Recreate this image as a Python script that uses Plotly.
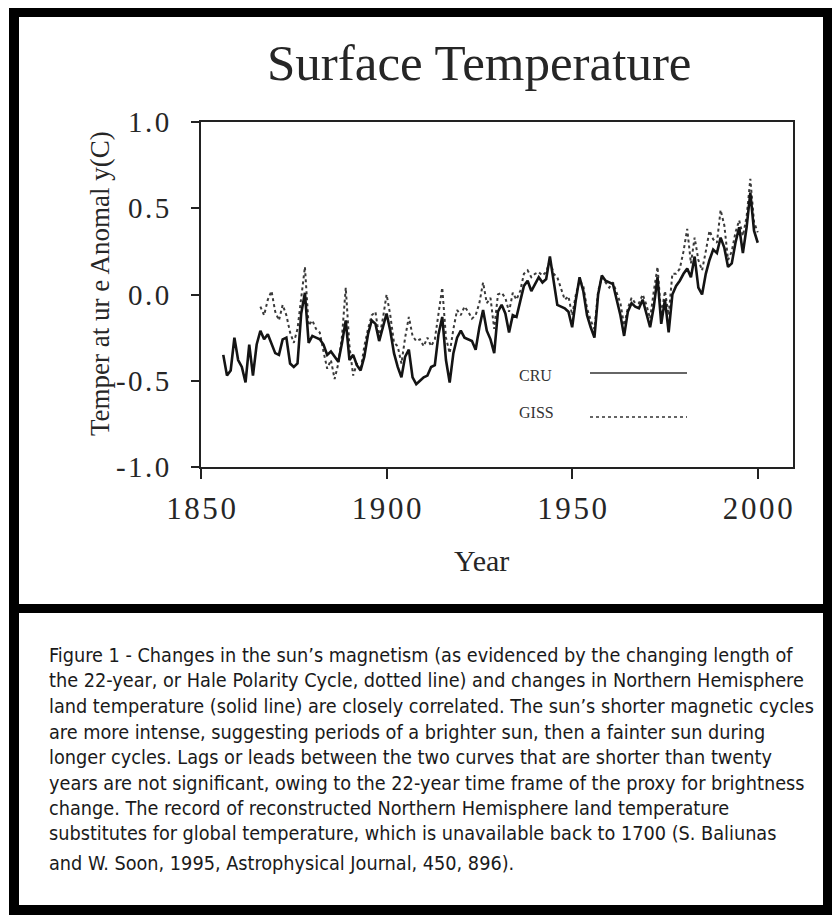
import plotly.graph_objects as go

# ---------------- data ----------------
cru_years = list(range(1856, 2001))
cru_values = [
    -0.35, -0.47, -0.44, -0.25,                                      # 1856-1859
    -0.38, -0.42, -0.51, -0.29, -0.47, -0.29, -0.21, -0.26, -0.23, -0.29,  # 1860s
    -0.34, -0.35, -0.26, -0.25, -0.40, -0.42, -0.40, -0.11, 0.01, -0.28,   # 1870s
    -0.24, -0.25, -0.26, -0.29, -0.35, -0.33, -0.36, -0.39, -0.28, -0.15,  # 1880s
    -0.38, -0.35, -0.41, -0.44, -0.36, -0.23, -0.15, -0.17, -0.27, -0.19,  # 1890s
    -0.11, -0.21, -0.34, -0.42, -0.48, -0.36, -0.32, -0.48, -0.52, -0.50,  # 1900s
    -0.48, -0.47, -0.42, -0.41, -0.23, -0.13, -0.38, -0.51, -0.34, -0.25,  # 1910s
    -0.21, -0.25, -0.26, -0.27, -0.32, -0.19, -0.09, -0.21, -0.26, -0.34,  # 1920s
    -0.10, -0.06, -0.11, -0.22, -0.12, -0.13, -0.04, 0.05, 0.08, 0.02,    # 1930s
    0.06, 0.10, 0.07, 0.09, 0.22, 0.08, -0.06, -0.07, -0.08, -0.10,       # 1940s
    -0.19, -0.03, 0.10, 0.02, -0.12, -0.19, -0.25, 0.00, 0.11, 0.08,      # 1950s
    0.07, 0.06, -0.03, -0.12, -0.24, -0.10, -0.05, -0.07, -0.08, -0.03,   # 1960s
    -0.11, -0.19, -0.07, 0.10, -0.17, -0.03, -0.22, 0.00, 0.05, 0.08,     # 1970s
    0.12, 0.15, 0.10, 0.22, 0.04, 0.00, 0.12, 0.20, 0.26, 0.24,           # 1980s
    0.33, 0.27, 0.16, 0.18, 0.30, 0.39, 0.24, 0.39, 0.59, 0.37,           # 1990s
    0.30,                                                            # 2000
]

giss_years = list(range(1866, 2001))
giss_values = [
    -0.07, -0.12, -0.03, 0.02,                                       # 1866-1869
    -0.10, -0.15, -0.06, -0.12, -0.22, -0.28, -0.20, -0.01, 0.16, -0.18,  # 1870s
    -0.15, -0.20, -0.22, -0.33, -0.43, -0.38, -0.49, -0.40, -0.24, 0.04,  # 1880s
    -0.30, -0.47, -0.40, -0.44, -0.30, -0.20, -0.12, -0.10, -0.25, -0.14, # 1890s
    0.00, -0.12, -0.28, -0.30, -0.40, -0.25, -0.13, -0.24, -0.27, -0.26,  # 1900s
    -0.30, -0.25, -0.30, -0.26, -0.12, 0.04, -0.25, -0.34, -0.20, -0.09,  # 1910s
    -0.12, -0.07, -0.10, -0.14, -0.12, -0.05, 0.07, -0.05, -0.02, -0.20,  # 1920s
    0.00, 0.01, -0.02, -0.10, 0.01, -0.03, 0.02, 0.12, 0.14, 0.10,        # 1930s
    0.12, 0.13, 0.11, 0.13, 0.20, 0.12, 0.10, 0.04, -0.03, -0.01,         # 1940s
    -0.12, 0.00, 0.08, 0.05, -0.08, -0.15, -0.20, 0.02, 0.10, 0.07,       # 1950s
    0.04, 0.07, 0.01, -0.05, -0.18, -0.08, -0.02, -0.05, -0.05, 0.00,     # 1960s
    -0.06, -0.14, 0.02, 0.16, -0.12, 0.02, -0.12, 0.12, 0.12, 0.15,       # 1970s
    0.25, 0.38, 0.18, 0.33, 0.20, 0.14, 0.25, 0.37, 0.32, 0.30,           # 1980s
    0.49, 0.40, 0.20, 0.25, 0.36, 0.43, 0.34, 0.45, 0.67, 0.42,           # 1990s
    0.36,                                                            # 2000
]

x_tick_values = [1850, 1900, 1950, 2000]
x_tick_labels = ["1850", "1900", "1950", "2000"]
y_tick_values = [-1.0, -0.5, 0.0, 0.5, 1.0]
y_tick_labels = ["-1.0", "-0.5", "0.0", "0.5", "1.0"]

title_text = "Surface Temperature"
x_title = "Year"
y_title = "Temper at ur e Anomal y(C)"
legend_names = ["CRU", "GISS"]

caption_lines = [
    "Figure 1 - Changes in the sun\u2019s magnetism (as evidenced by the changing length of",
    "the 22-year, or Hale Polarity Cycle, dotted line) and changes in Northern Hemisphere",
    "land temperature (solid line) are closely correlated. The sun\u2019s shorter magnetic cycles",
    "are more intense, suggesting periods of a brighter sun, then a fainter sun during",
    "longer cycles. Lags or leads between the two curves that are shorter than twenty",
    "years are not significant, owing to the 22-year time frame of the proxy for brightness",
    "change. The record of reconstructed Northern Hemisphere land temperature",
    "substitutes for global temperature, which is unavailable back to 1700 (S. Baliunas",
    "and W. Soon, 1995, Astrophysical Journal, 450, 896).",
]

# ---------------- layout helpers (page pixel coordinates) ----------------
OFF = 8                                # page body margin
PAGE_W, PAGE_H = 840, 915
W, H = PAGE_W - OFF, PAGE_H - OFF      # figure size
PL, PR, PT, PB = 201, 793, 122, 467    # plot area in page pixels


def xp(px):
    return (px - PL) / (PR - PL)


def yp(py):
    return 1 - (py - PT) / (PB - PT)


def spaced(s):
    return "\u200a".join(s)


SERIF = "Liberation Serif, Times New Roman, serif"
NARROW = "Liberation Sans Narrow, Arial Narrow, DejaVu Sans Condensed, Liberation Sans, Arial, sans-serif"
TXT = "#262626"

fig = go.Figure()
fig.add_trace(go.Scatter(x=giss_years, y=giss_values, mode="lines", name=legend_names[1],
                         line=dict(color="#3a3a3a", width=2, dash="dot"), showlegend=False))
fig.add_trace(go.Scatter(x=cru_years, y=cru_values, mode="lines", name=legend_names[0],
                         line=dict(color="#141414", width=2.6), showlegend=False))

shapes = []
frame = dict(type="rect", xref="paper", yref="paper", fillcolor="black", line=dict(width=0), layer="above")
shapes.append(dict(frame, x0=xp(9), x1=xp(845), y0=yp(6), y1=yp(17)))      # top
shapes.append(dict(frame, x0=xp(9), x1=xp(19), y0=yp(6), y1=yp(920)))      # left
shapes.append(dict(frame, x0=xp(823), x1=xp(845), y0=yp(6), y1=yp(920)))   # right
shapes.append(dict(frame, x0=xp(9), x1=xp(845), y0=yp(905), y1=yp(920)))   # bottom
shapes.append(dict(frame, x0=xp(9), x1=xp(845), y0=yp(604), y1=yp(613)))   # separator
shapes.append(dict(type="line", xref="paper", yref="paper", x0=xp(590), x1=xp(687), y0=yp(373), y1=yp(373),
                   line=dict(color="#333333", width=1.6)))
shapes.append(dict(type="line", xref="paper", yref="paper", x0=xp(590), x1=xp(687), y0=yp(417), y1=yp(417),
                   line=dict(color="#333333", width=1.4, dash="dot")))

annotations = []
annotations.append(dict(text=title_text, xref="paper", yref="paper", x=xp(479), y=yp(63),
                        xanchor="center", yanchor="middle", showarrow=False,
                        font=dict(family=SERIF, size=51, color=TXT)))
annotations.append(dict(text=x_title, xref="paper", yref="paper", x=xp(481), y=yp(560),
                        xanchor="center", yanchor="middle", showarrow=False,
                        font=dict(family=SERIF, size=30, color=TXT)))
annotations.append(dict(text=y_title, xref="paper", yref="paper", x=xp(100), y=yp(284),
                        xanchor="center", yanchor="middle", showarrow=False, textangle=-90,
                        font=dict(family=SERIF, size=27, color=TXT)))
annotations.append(dict(text=legend_names[0], xref="paper", yref="paper", x=xp(517), y=yp(375),
                        xanchor="left", yanchor="middle", showarrow=False,
                        font=dict(family=SERIF, size=16, color="#333333")))
annotations.append(dict(text=legend_names[1], xref="paper", yref="paper", x=xp(517), y=yp(412),
                        xanchor="left", yanchor="middle", showarrow=False,
                        font=dict(family=SERIF, size=16, color="#333333")))

cap_y = [655, 680, 706, 732, 757, 783, 808, 833, 863]
for line, cy in zip(caption_lines, cap_y):
    annotations.append(dict(text=line, xref="paper", yref="paper", x=xp(47), y=yp(cy),
                            xanchor="left", yanchor="middle", showarrow=False,
                            font=dict(family=NARROW, size=19.7, color="#1a1a1a")))

fig.update_layout(
    width=W, height=H, autosize=False,
    margin=dict(l=PL - OFF, r=PAGE_W - PR, t=PT - OFF, b=PAGE_H - PB, pad=0),
    paper_bgcolor="white", plot_bgcolor="white",
    shapes=shapes, annotations=annotations,
    showlegend=False,
)
fig.update_xaxes(range=[1850, 2009.5], tickmode="array", tickvals=x_tick_values,
                 ticktext=[spaced(t) for t in x_tick_labels],
                 showgrid=False, zeroline=False, showline=True, linecolor="#222", linewidth=2,
                 mirror=True, ticks="outside", ticklen=10, tickwidth=2, tickcolor="#222",
                 ticklabelstandoff=3,
                 tickfont=dict(family=SERIF, size=31, color=TXT))
fig.update_yaxes(range=[-1.0, 1.0], tickmode="array", tickvals=y_tick_values,
                 ticktext=[spaced(t) for t in y_tick_labels],
                 showgrid=False, zeroline=False, showline=True, linecolor="#222", linewidth=2,
                 mirror=True, ticks="outside", ticklen=8, tickwidth=2, tickcolor="#222",
                 ticklabelstandoff=16,
                 tickfont=dict(family=SERIF, size=29, color=TXT))

fig.write_html("out.html")
